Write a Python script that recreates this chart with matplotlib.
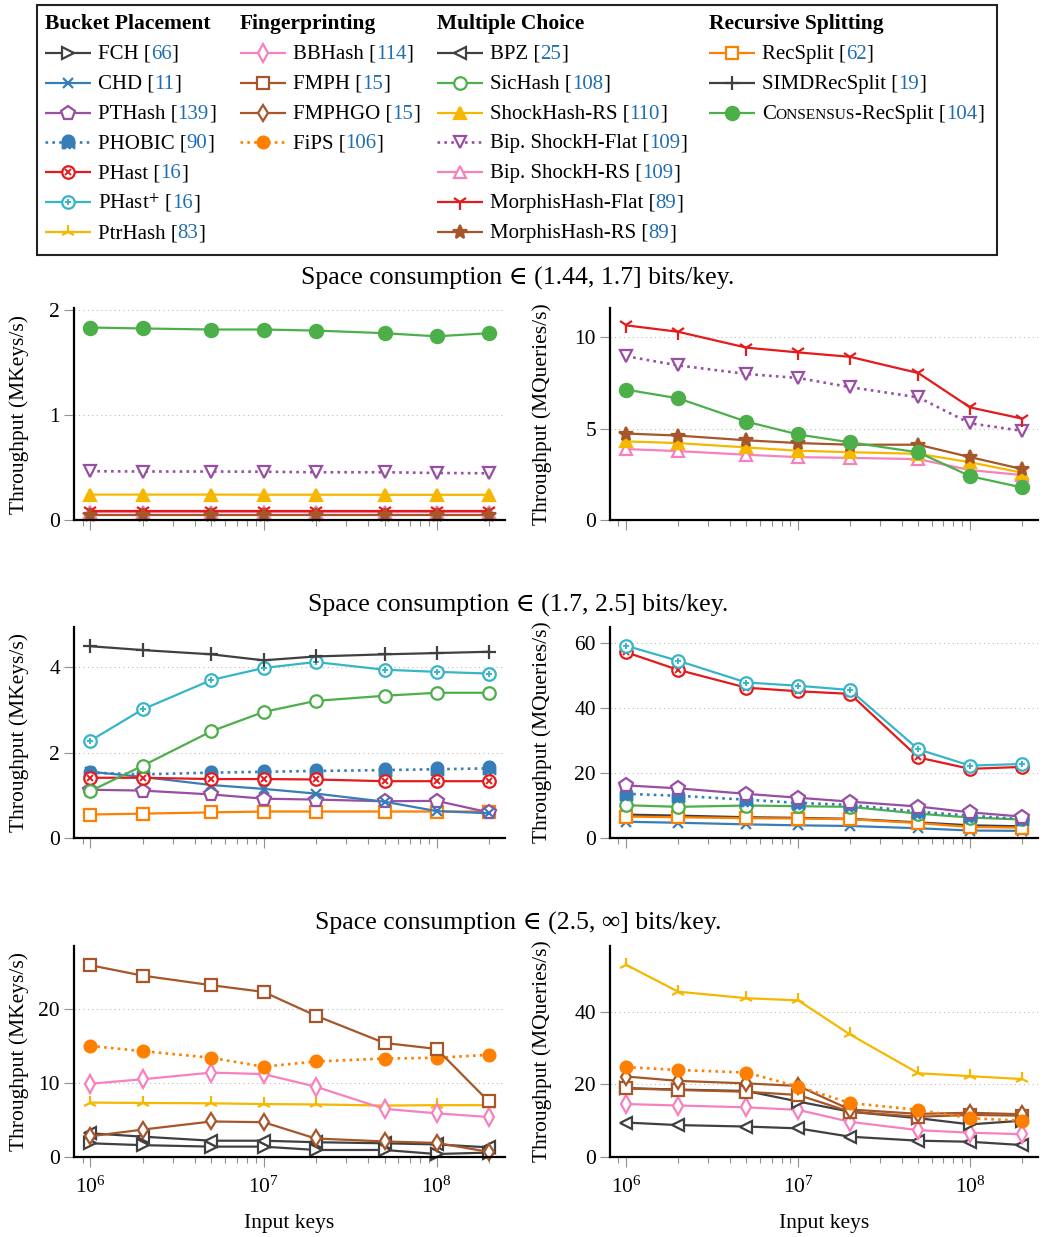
import numpy as np
import matplotlib
matplotlib.use('Agg')
import matplotlib.pyplot as plt
from matplotlib.path import Path
from matplotlib.patches import Rectangle
from matplotlib.ticker import LogLocator, NullFormatter, FixedLocator, LogFormatterMathtext

plt.rcParams['font.family'] = ['Liberation Serif', 'DejaVu Serif']
plt.rcParams['mathtext.fontset'] = 'stix'

W, H, DPI = 1045, 1237, 100

# ---------------- data ----------------
keys = [1e6, 2e6, 5e6, 1e7, 2e7, 5e7, 1e8, 2e8]

titles = ["Space consumption \u2208 (1.44, 1.7] bits/key.",
          "Space consumption \u2208 (1.7, 2.5] bits/key.",
          "Space consumption \u2208 (2.5, \u221e] bits/key."]

# Row 1: construction (MKeys/s)
b1_consensus = [1.834, 1.825, 1.815, 1.815, 1.805, 1.78, 1.75, 1.78]
b1_bipflat = [0.465, 0.462, 0.462, 0.460, 0.455, 0.455, 0.448, 0.445]
b1_shockrs = [0.242, 0.242, 0.242, 0.241, 0.241, 0.240, 0.240, 0.240]
b1_morphflat = [0.089, 0.089, 0.089, 0.089, 0.089, 0.089, 0.089, 0.089]
b1_biprs = [0.075, 0.075, 0.075, 0.075, 0.075, 0.075, 0.075, 0.075]
b1_morphrs = [0.048, 0.048, 0.048, 0.048, 0.048, 0.048, 0.048, 0.048]
# Row 1: queries (MQueries/s)
q1_morphflat = [10.65, 10.3, 9.43, 9.17, 8.93, 8.04, 6.16, 5.55]
q1_bipflat = [8.96, 8.46, 7.99, 7.77, 7.27, 6.71, 5.29, 4.88]
q1_consensus = [7.13, 6.66, 5.38, 4.68, 4.25, 3.70, 2.40, 1.78]
q1_morphrs = [4.73, 4.62, 4.36, 4.21, 4.12, 4.12, 3.44, 2.79]
q1_shockrs = [4.30, 4.21, 3.97, 3.79, 3.71, 3.62, 3.16, 2.59]
q1_biprs = [3.88, 3.77, 3.57, 3.44, 3.40, 3.33, 2.73, 2.46]

# Row 2: construction
b2_simd = [4.49, 4.40, 4.30, 4.16, 4.25, 4.30, 4.33, 4.36]
b2_phastp = [2.28, 3.01, 3.70, 3.98, 4.12, 3.94, 3.89, 3.85]
b2_sichash = [1.10, 1.69, 2.50, 2.95, 3.21, 3.33, 3.40, 3.40]
b2_phobic = [1.53, 1.49, 1.53, 1.55, 1.57, 1.59, 1.61, 1.63]
b2_phast = [1.41, 1.41, 1.38, 1.38, 1.37, 1.33, 1.33, 1.33]
b2_chd = [1.55, 1.43, 1.24, 1.15, 1.04, 0.85, 0.63, 0.58]
b2_pthash = [1.13, 1.11, 1.02, 0.92, 0.90, 0.86, 0.87, 0.60]
b2_recsplit = [0.55, 0.57, 0.60, 0.62, 0.62, 0.62, 0.62, 0.62]
# Row 2: queries
q2_phastp = [59.2, 54.6, 47.9, 46.9, 45.6, 27.3, 22.3, 22.8]
q2_phast = [57.2, 51.8, 46.3, 45.2, 44.4, 24.8, 21.3, 21.9]
q2_pthash = [16.2, 15.3, 13.6, 12.4, 11.2, 9.7, 7.9, 6.6]
q2_phobic = [13.6, 13.0, 11.8, 10.8, 10.2, 8.1, 6.9, 5.8]
q2_sichash = [10.1, 9.6, 10.0, 9.8, 9.6, 7.5, 6.3, 5.7]
q2_simd = [7.2, 6.9, 6.4, 6.2, 5.9, 4.8, 3.9, 3.6]
q2_recsplit = [6.6, 6.4, 6.1, 6.0, 5.8, 4.6, 3.4, 3.2]
q2_chd = [5.0, 4.7, 4.2, 3.9, 3.7, 3.0, 2.3, 2.2]

# Row 3: construction
b3_fmph = [25.9, 24.5, 23.2, 22.3, 19.1, 15.4, 14.6, 7.5]
b3_fips = [15.0, 14.3, 13.4, 12.2, 12.9, 13.3, 13.4, 13.8]
b3_bbhash = [9.9, 10.5, 11.4, 11.2, 9.5, 6.5, 5.9, 5.4]
b3_ptrhash = [7.35, 7.3, 7.25, 7.15, 7.1, 6.95, 7.0, 7.0]
b3_fmphgo = [2.8, 3.7, 4.8, 4.7, 2.5, 2.1, 1.9, 0.7]
b3_bpz = [3.2, 2.75, 2.2, 2.2, 2.0, 1.85, 1.7, 1.3]
b3_fch = [1.85, 1.6, 1.4, 1.4, 0.95, 0.95, 0.4, 0.6]
# Row 3: queries
q3_ptrhash = [53.0, 45.6, 43.8, 43.2, 33.8, 23.1, 22.3, 21.5]
q3_fips = [24.8, 24.0, 23.3, 19.4, 14.9, 13.0, 10.7, 10.0]
q3_fmphgo = [22.2, 21.0, 20.3, 19.6, 13.1, 11.9, 12.2, 11.8]
q3_fmph = [18.9, 18.5, 18.0, 17.1, 12.5, 11.1, 11.6, 11.4]
q3_fch = [19.0, 18.6, 18.2, 15.3, 12.5, 10.7, 9.0, 10.0]
q3_bbhash = [14.6, 14.2, 13.7, 13.0, 9.7, 7.4, 6.7, 6.3]
q3_bpz = [9.5, 8.8, 8.4, 7.9, 5.6, 4.5, 4.2, 3.3]

# legend columns
legend_headers = ["Bucket Placement", "Fingerprinting", "Multiple Choice", "Recursive Splitting"]
legend_col1 = [("FCH", "66"), ("CHD", "11"), ("PTHash", "139"), ("PHOBIC", "90"),
               ("PHast", "16"), ("PHast+", "16"), ("PtrHash", "83")]
legend_col2 = [("BBHash", "114"), ("FMPH", "15"), ("FMPHGO", "15"), ("FiPS", "106")]
legend_col3 = [("BPZ", "25"), ("SicHash", "108"), ("ShockHash-RS", "110"),
               ("Bip. ShockH-Flat", "109"), ("Bip. ShockH-RS", "109"),
               ("MorphisHash-Flat", "89"), ("MorphisHash-RS", "89")]
legend_col4 = [("RecSplit", "62"), ("SIMDRecSplit", "19"), ("Consensus-RecSplit", "104")]

# ---------------- styles ----------------
gray = '#404040'; blue = '#377eb8'; purple = '#984ea3'; red = '#e41a1c'
cyan = '#36b5c6'; gold = '#f6b700'; pink = '#f781bf'; brown = '#a65628'
orange = '#ff7f00'; green = '#4daf4a'
cite_col = '#1f6eb0'

# ghost marker for PHOBIC
_t = np.linspace(np.pi, 0, 20)
_top = np.column_stack([np.cos(_t), 0.2 + np.sin(_t)])
_bot = np.array([[1, -1], [0.6, -0.6], [0.2, -1], [-0.2, -0.6], [-0.6, -1], [-1, -1]])
ghost = Path(np.vstack([_top, _bot, _top[:1]]), closed=True)

DOT = (0, (1, 1.6))
styles = {
    'FCH': dict(color=gray, marker='>', ms=9, mfc='white'),
    'CHD': dict(color=blue, marker='x', ms=7),
    'PTHash': dict(color=purple, marker='p', ms=10, mfc='white'),
    'PHOBIC': dict(color=blue, marker=ghost, ms=10, mfc=blue, ls=DOT),
    'PHast': dict(color=red, marker='o', ms=9, mfc='white', inner='x'),
    'PHast+': dict(color=cyan, marker='o', ms=9, mfc='white', inner='+'),
    'PtrHash': dict(color=gold, marker='2', ms=10),
    'BBHash': dict(color=pink, marker='d', ms=9, mfc='white'),
    'FMPH': dict(color=brown, marker='s', ms=9, mfc='white'),
    'FMPHGO': dict(color=brown, marker='d', ms=8, mfc='white'),
    'FiPS': dict(color=orange, marker='o', ms=8.5, mfc=orange, ls=DOT),
    'BPZ': dict(color=gray, marker='<', ms=9, mfc='white'),
    'SicHash': dict(color=green, marker='o', ms=9, mfc='white'),
    'ShockHash-RS': dict(color=gold, marker='^', ms=9, mfc=gold),
    'Bip. ShockH-Flat': dict(color=purple, marker='v', ms=9, mfc='white', ls=DOT),
    'Bip. ShockH-RS': dict(color=pink, marker='^', ms=9, mfc='white'),
    'MorphisHash-Flat': dict(color=red, marker='1', ms=11),
    'MorphisHash-RS': dict(color=brown, marker='*', ms=10),
    'RecSplit': dict(color=orange, marker='s', ms=9, mfc='white'),
    'SIMDRecSplit': dict(color=gray, marker='+', ms=10),
    'Consensus-RecSplit': dict(color=green, marker='o', ms=9.5, mfc=green),
}


def draw(ax, x, y, name, markevery=None):
    st = dict(styles[name])
    inner = st.pop('inner', None)
    ls = st.pop('ls', '-')
    c = st.pop('color')
    mfc = st.pop('mfc', c)
    ax.plot(x, y, ls=ls, color=c, lw=1.6 if ls == '-' else 1.9, mec=c, mfc=mfc, mew=1.6,
            marker=st['marker'], ms=st['ms'], markevery=markevery, clip_on=False,
            solid_capstyle='butt')
    if inner:
        ax.plot(x, y, ls='none', marker=inner, ms=5, mew=1.4, color=c,
                markevery=markevery, clip_on=False)


fig = plt.figure(figsize=(W / DPI, H / DPI), dpi=DPI)

LX = (74, 505); RX = (610, 1038)
rows_px = [(308, 520), (627, 838), (946, 1157)]
xlim = (10 ** 5.905, 10 ** 8.395)
TFS = 15.5

panels = [
    [((0, 2.02), [0, 1, 2], [('Consensus-RecSplit', b1_consensus), ('Bip. ShockH-Flat', b1_bipflat),
                             ('ShockHash-RS', b1_shockrs), ('Bip. ShockH-RS', b1_biprs),
                             ('MorphisHash-Flat', b1_morphflat), ('MorphisHash-RS', b1_morphrs)]),
     ((0, 11.6), [0, 5, 10], [('Bip. ShockH-RS', q1_biprs), ('ShockHash-RS', q1_shockrs),
                              ('MorphisHash-RS', q1_morphrs), ('Consensus-RecSplit', q1_consensus),
                              ('Bip. ShockH-Flat', q1_bipflat), ('MorphisHash-Flat', q1_morphflat)])],
    [((0, 4.94), [0, 2, 4], [('RecSplit', b2_recsplit), ('PTHash', b2_pthash), ('CHD', b2_chd),
                             ('PHOBIC', b2_phobic), ('PHast', b2_phast), ('SicHash', b2_sichash),
                             ('PHast+', b2_phastp), ('SIMDRecSplit', b2_simd)]),
     ((0, 65), [0, 20, 40, 60], [('CHD', q2_chd), ('SIMDRecSplit', q2_simd), ('RecSplit', q2_recsplit),
                                 ('SicHash', q2_sichash), ('PHOBIC', q2_phobic), ('PTHash', q2_pthash),
                                 ('PHast', q2_phast), ('PHast+', q2_phastp)])],
    [((0, 28.5), [0, 10, 20], [('FCH', b3_fch), ('BPZ', b3_bpz), ('FMPHGO', b3_fmphgo),
                               ('PtrHash', b3_ptrhash), ('BBHash', b3_bbhash), ('FiPS', b3_fips),
                               ('FMPH', b3_fmph)]),
     ((0, 58.2), [0, 20, 40], [('BPZ', q3_bpz), ('BBHash', q3_bbhash), ('FCH', q3_fch),
                               ('FMPH', q3_fmph), ('FMPHGO', q3_fmphgo), ('FiPS', q3_fips),
                               ('PtrHash', q3_ptrhash)])],
]

for r, (top, bot) in enumerate(rows_px):
    for cidx, (x0, x1) in enumerate([LX, RX]):
        ax = fig.add_axes([x0 / W, 1 - bot / H, (x1 - x0) / W, (bot - top) / H])
        ylim, yt, series = panels[r][cidx]
        for name, vals in series:
            draw(ax, keys, vals, name)
        ax.set_xscale('log')
        ax.set_xlim(*xlim)
        ax.set_ylim(*ylim)
        ax.yaxis.set_major_locator(FixedLocator(yt))
        ax.xaxis.set_major_locator(LogLocator(base=10, numticks=10))
        ax.xaxis.set_minor_locator(LogLocator(base=10, subs=np.arange(2, 10), numticks=10))
        ax.xaxis.set_minor_formatter(NullFormatter())
        if r < 2:
            ax.xaxis.set_major_formatter(NullFormatter())
        else:
            ax.xaxis.set_major_formatter(LogFormatterMathtext())
            ax.set_xlabel('Input keys', fontsize=TFS, labelpad=12)
        for s in ('top', 'right'):
            ax.spines[s].set_visible(False)
        for s in ('left', 'bottom'):
            ax.spines[s].set_linewidth(1.6)
        ax.tick_params(axis='both', which='major', direction='out', color='#909090',
                       length=7, width=0.8, labelsize=TFS, pad=3)
        ax.tick_params(axis='x', which='major', pad=7)
        ax.tick_params(axis='x', which='minor', direction='out', color='#909090', length=4, width=0.8)
        ax.yaxis.grid(True, ls=(0, (1, 3)), color='#bbbbbb', lw=0.8)
        ax.set_axisbelow(True)
        ax.set_ylabel('Throughput (MKeys/s)' if cidx == 0 else 'Throughput (MQueries/s)', fontsize=TFS)
        ax.yaxis.set_label_coords(((29 if cidx == 0 else 552) - x0) / (x1 - x0), 0.5)

for title, ypx in zip(titles, [278, 605, 923]):
    fig.text(518 / W, 1 - ypx / H, title, ha='center', va='center', fontsize=18.5)

# ---------------- legend ----------------
lax = fig.add_axes([0, 0, 1, 1], zorder=-1)
lax.set_xlim(0, W)
lax.set_ylim(H, 0)
lax.axis('off')
lax.add_patch(Rectangle((37, 5), 960, 250, fill=False, ec='#222222', lw=1.5))

fig.canvas.draw()
renderer = fig.canvas.get_renderer()


def rich(x, y, pieces, weight='normal'):
    for s, col, size in pieces:
        t = lax.text(x, y, s, color=col, fontsize=size, ha='left', va='baseline', fontweight=weight)
        x += t.get_window_extent(renderer=renderer).width


col_x = [45, 240, 437, 709]
row_y = [23, 53, 83, 113, 142, 172, 202, 232]
FS = 15
for ci, (hdr, items) in enumerate(zip(legend_headers, [legend_col1, legend_col2, legend_col3, legend_col4])):
    hx = col_x[ci]
    rich(hx, row_y[0] + 6, [(hdr, 'black', 15.5)], weight='bold')
    for ri, (name, cite) in enumerate(items):
        y = row_y[ri + 1]
        draw(lax, [hx, hx + 23, hx + 46], [y, y, y], name, markevery=[1])
        tx = hx + 53
        if name == 'PHast+':
            pieces = [('PHast$^{+}$ [', 'black', FS), (cite, cite_col, FS), (']', 'black', FS)]
        elif name == 'Consensus-RecSplit':
            pieces = [('C', 'black', FS), ('ONSENSUS', 'black', FS * 0.74),
                      ('-RecSplit [', 'black', FS), (cite, cite_col, FS), (']', 'black', FS)]
        else:
            pieces = [(name + ' [', 'black', FS), (cite, cite_col, FS), (']', 'black', FS)]
        rich(tx, y + 6, pieces)

fig.savefig('out.png', dpi=DPI)
